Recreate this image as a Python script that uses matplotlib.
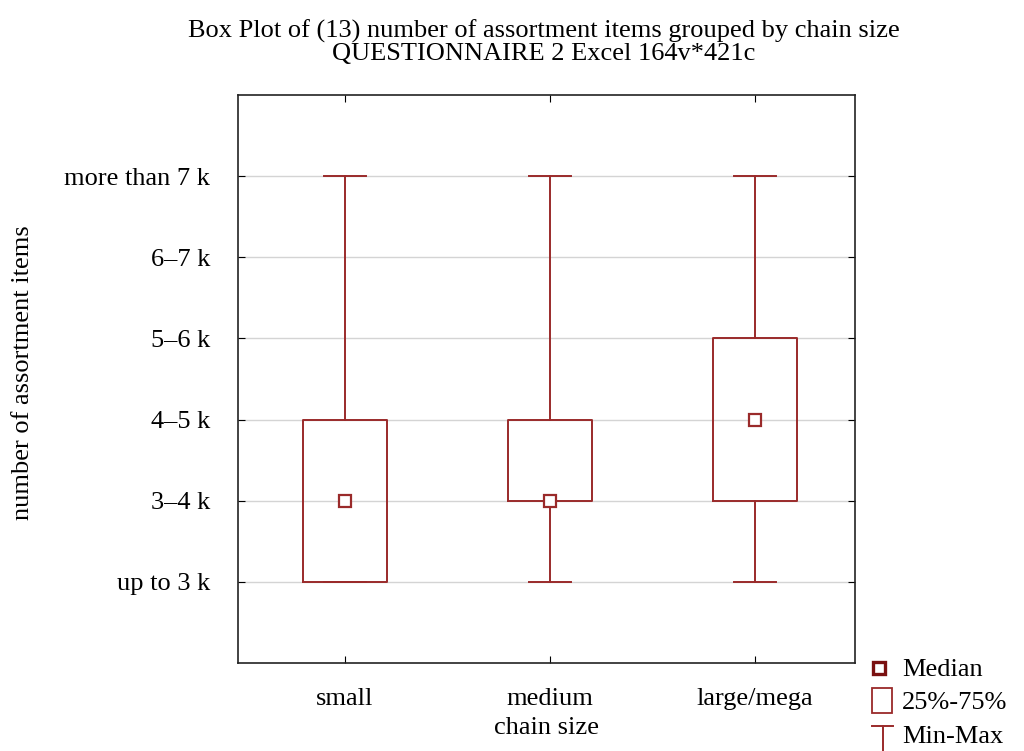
import matplotlib.pyplot as plt
from matplotlib.lines import Line2D
from matplotlib.patches import Rectangle

plt.rcParams['font.family'] = ['Liberation Serif', 'DejaVu Serif']

# Data (1 = "up to 3 k", ..., 6 = "more than 7 k")
groups = ['small', 'medium', 'large/mega']
mins = [1, 1, 1]
q1s = [1, 2, 2]
medians = [2, 2, 3]
q3s = [3, 3, 4]
maxs = [6, 6, 6]
ytick_labels = ['up to 3 k', '3\u20134 k', '4\u20135 k', '5\u20136 k', '6\u20137 k', 'more than 7 k']
legend_labels = ['Median', '25%-75%', 'Min-Max']

col = '#9a2a2a'
fs = 19

W, H = 1024, 751
fig = plt.figure(figsize=(W / 100, H / 100), dpi=100)
ax = fig.add_axes([238 / W, 1 - 663 / H, 617 / W, 568 / H])


def fx(px):
    return px / W


def fy(py):
    return 1 - py / H


stats = []
for g, lo, a, m, b, hi in zip(groups, mins, q1s, medians, q3s, maxs):
    stats.append(dict(label=g, whislo=lo, q1=a, med=m, q3=b, whishi=hi))

pos = [1, 2, 3]
ax.bxp(stats, positions=pos, widths=0.41, capwidths=0.205, showfliers=False,
       boxprops=dict(color=col, linewidth=1.4),
       whiskerprops=dict(color=col, linewidth=1.4),
       capprops=dict(color=col, linewidth=1.4),
       medianprops=dict(linestyle='none'))
ax.plot(pos, medians, linestyle='none', marker='s', markersize=8.5,
        markerfacecolor='white', markeredgecolor=col, markeredgewidth=1.6, zorder=5)

ax.set_xlim(0.478, 3.488)
ax.set_ylim(0, 7)
ax.set_yticks(range(1, 7))
ax.set_yticklabels(ytick_labels)
ax.set_xticks(pos)
ax.set_xticklabels(groups)
ax.yaxis.grid(True, color='#d4d4d4', linewidth=1)
ax.set_axisbelow(True)
ax.tick_params(direction='in', top=True, right=True, labelsize=fs, length=5)
ax.tick_params(axis='y', pad=20)
ax.tick_params(axis='x', pad=18)
for s in ax.spines.values():
    s.set_linewidth(1.2)
    s.set_color('#222222')

ax.set_xlabel('chain size', fontsize=fs, labelpad=5)
ax.set_ylabel('number of assortment items', fontsize=fs)
ax.yaxis.set_label_coords(-0.33, 0.512)

# two-line title
fig.text(fx(544), fy(31), 'Box Plot of (13) number of assortment items grouped by chain size',
         ha='center', va='center', fontsize=fs)
fig.text(fx(544), fy(54), 'QUESTIONNAIRE 2 Excel 164v*421c',
         ha='center', va='center', fontsize=fs)

# legend, drawn by hand in figure coordinates
fig.add_artist(Line2D([fx(879)], [fy(668)], linestyle='none', marker='s', markersize=8.5,
                      markerfacecolor='white', markeredgecolor='#7a1010', markeredgewidth=2.4,
                      transform=fig.transFigure))
fig.add_artist(Rectangle((fx(872), fy(713)), fx(20), 25 / H, facecolor='white',
                         edgecolor=col, linewidth=1.3, transform=fig.transFigure))
fig.add_artist(Line2D([fx(872), fx(893)], [fy(726), fy(726)], color=col, linewidth=1.4,
                      transform=fig.transFigure))
fig.add_artist(Line2D([fx(883), fx(883)], [fy(726), fy(751)], color=col, linewidth=1.4,
                      transform=fig.transFigure))
for lab, py in zip(legend_labels, [670, 703, 737]):
    fig.text(fx(902), fy(py), lab, ha='left', va='center', fontsize=fs)

fig.savefig('out.png', dpi=100)
